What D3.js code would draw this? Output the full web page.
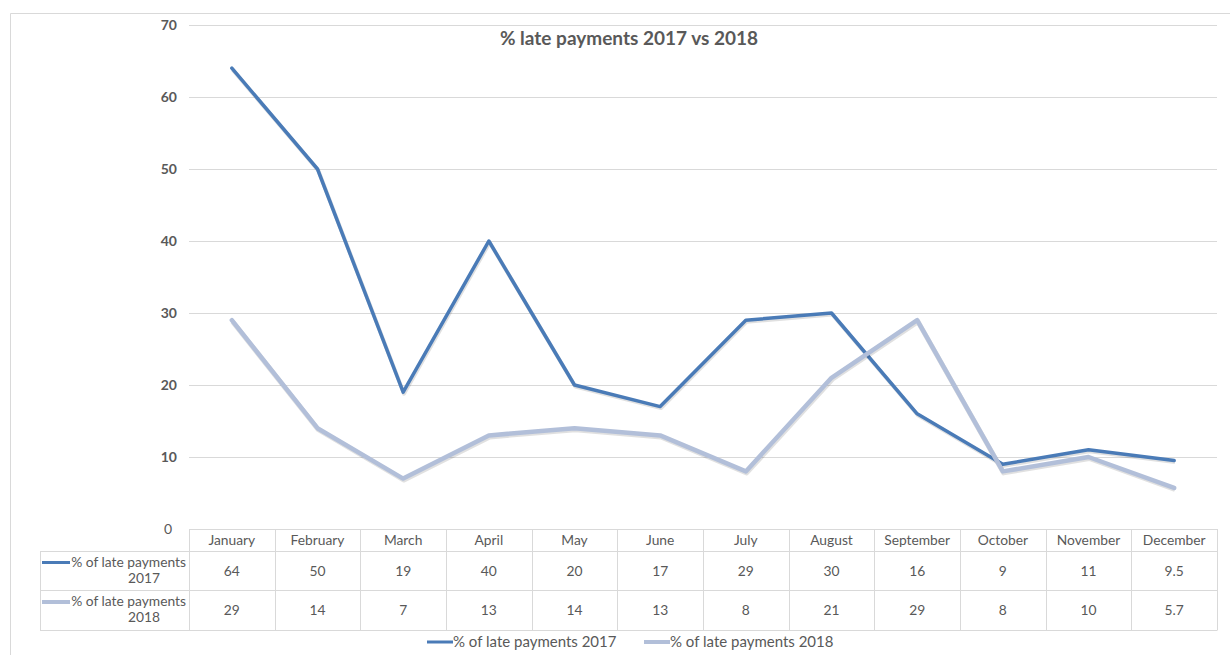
<!DOCTYPE html>
<html><head><meta charset="utf-8">
<script src="https://cdn.jsdelivr.net/npm/d3@7"></script>
<style>
html,body{margin:0;padding:0;background:#fff;}
svg{display:block;font-family:Lato,"Open Sans",sans-serif;}
</style></head>
<body><svg id="c" width="1231" height="655"></svg>
<script>
const months = ["January","February","March","April","May","June","July","August","September","October","November","December"];
const seriesNames = ["% of late payments 2017","% of late payments 2018"];
const values2017 = [64,50,19,40,20,17,29,30,16,9,11,9.5];
const values2018 = [29,14,7,13,14,13,8,21,29,8,10,5.7];
const yTicks = [0,10,20,30,40,50,60,70];
const title = "% late payments 2017 vs 2018";
const colors = ["#4a7bb7","#b2bfd9"];

(function(){
const svg = d3.select("#c");
const W=1231,H=655;
const pL=189,pR=1217,pT=25,pB=529;
const fs=13.8;
const x = d3.scaleBand().domain(months).range([pL,pR]).padding(0);
const y = d3.scaleLinear().domain([0,70]).range([pB,pT]);

svg.append("path").attr("d",`M10.5,${H}V13.5H1230`).attr("fill","none").attr("stroke","#d9d9d9").attr("stroke-width",1);

svg.append("g").selectAll("line").data(yTicks.filter(d=>d>0)).join("line")
 .attr("x1",pL).attr("x2",pR).attr("y1",d=>Math.round(y(d))+0.5).attr("y2",d=>Math.round(y(d))+0.5)
 .attr("stroke","#d9d9d9").attr("stroke-width",1);

const yAxis = d3.axisLeft(y).tickValues(yTicks).tickSize(0).tickPadding(12);
const ga = svg.append("g").attr("transform",`translate(${pL},0)`).call(yAxis);
ga.select(".domain").remove();
ga.selectAll("text").attr("fill","#595959").attr("font-size",14).attr("font-weight","bold").attr("font-family","Lato, sans-serif");
ga.selectAll(".tick").filter(d=>d===0).select("text").attr("font-weight","normal").attr("dx",-5);

svg.append("text").attr("x",629).attr("y",45).attr("text-anchor","middle").attr("fill","#595959")
 .attr("font-size",19).attr("font-weight","bold").text(title);

const line = d3.line().x((d,i)=>x(months[i])+x.bandwidth()/2).y(d=>y(d));
const data=[values2017,values2018];
[0,1].forEach(k=>{
  svg.append("path").attr("d",line(data[k])).attr("fill","none")
   .attr("stroke","#000").attr("stroke-opacity",0.12).attr("stroke-width",k?5:4)
   .attr("transform","translate(0.8,1.5)").attr("stroke-linejoin","round");
  svg.append("path").attr("d",line(data[k])).attr("fill","none")
   .attr("stroke",colors[k]).attr("stroke-width",k?4.5:3.5).attr("stroke-linejoin","round").attr("stroke-linecap","round");
});

const tc="#d9d9d9";
const rowY=[529,551,590,630];
const tLeft=40;
const tg=svg.append("g");
tg.append("line").attr("x1",pL).attr("x2",pR).attr("y1",rowY[0]+0.5).attr("y2",rowY[0]+0.5).attr("stroke",tc);
[1,2,3].forEach(r=>tg.append("line").attr("x1",tLeft).attr("x2",pR).attr("y1",rowY[r]+0.5).attr("y2",rowY[r]+0.5).attr("stroke",tc));
tg.append("line").attr("x1",tLeft+0.5).attr("x2",tLeft+0.5).attr("y1",rowY[1]).attr("y2",rowY[3]+0.5).attr("stroke",tc);
months.forEach(m=>tg.append("line").attr("x1",Math.round(x(m))+0.5).attr("x2",Math.round(x(m))+0.5).attr("y1",rowY[0]).attr("y2",rowY[3]+0.5).attr("stroke",tc));
tg.append("line").attr("x1",pR+0.5).attr("x2",pR+0.5).attr("y1",rowY[0]).attr("y2",rowY[3]+0.5).attr("stroke",tc);

tg.selectAll("text.h").data(months).join("text").attr("class","h")
 .attr("x",d=>x(d)+x.bandwidth()/2).attr("y",(rowY[0]+rowY[1])/2+5).attr("text-anchor","middle")
 .attr("fill","#595959").attr("font-size",fs).text(d=>d);
data.forEach((vals,k)=>{
  const cy=(rowY[k+1]+rowY[k+2])/2;
  tg.selectAll("text.v"+k).data(vals).join("text").attr("class","v"+k)
   .attr("x",(d,i)=>x(months[i])+x.bandwidth()/2).attr("y",cy+5).attr("text-anchor","middle")
   .attr("fill","#595959").attr("font-size",fs).text(d=>d);
  tg.append("line").attr("x1",42).attr("x2",70).attr("y1",cy-8).attr("y2",cy-8)
   .attr("stroke",colors[k]).attr("stroke-width",k?4:3);
  const parts=seriesNames[k].split(" ");
  const last=parts.pop();
  tg.append("text").attr("x",186).attr("y",cy-4).attr("text-anchor","end").attr("fill","#595959").attr("font-size",fs).text(parts.join(" "));
  tg.append("text").attr("x",144).attr("y",cy+12).attr("text-anchor","middle").attr("fill","#595959").attr("font-size",fs).text(last);
});

const lg=svg.append("g");
const lx=[427,644];
seriesNames.forEach((n,k)=>{
  lg.append("line").attr("x1",lx[k]).attr("x2",lx[k]+26).attr("y1",642).attr("y2",642).attr("stroke",colors[k]).attr("stroke-width",k?4:3);
  lg.append("text").attr("x",lx[k]+26).attr("y",647).attr("fill","#595959").attr("font-size",15).text(n);
});
})();
</script></body></html>
